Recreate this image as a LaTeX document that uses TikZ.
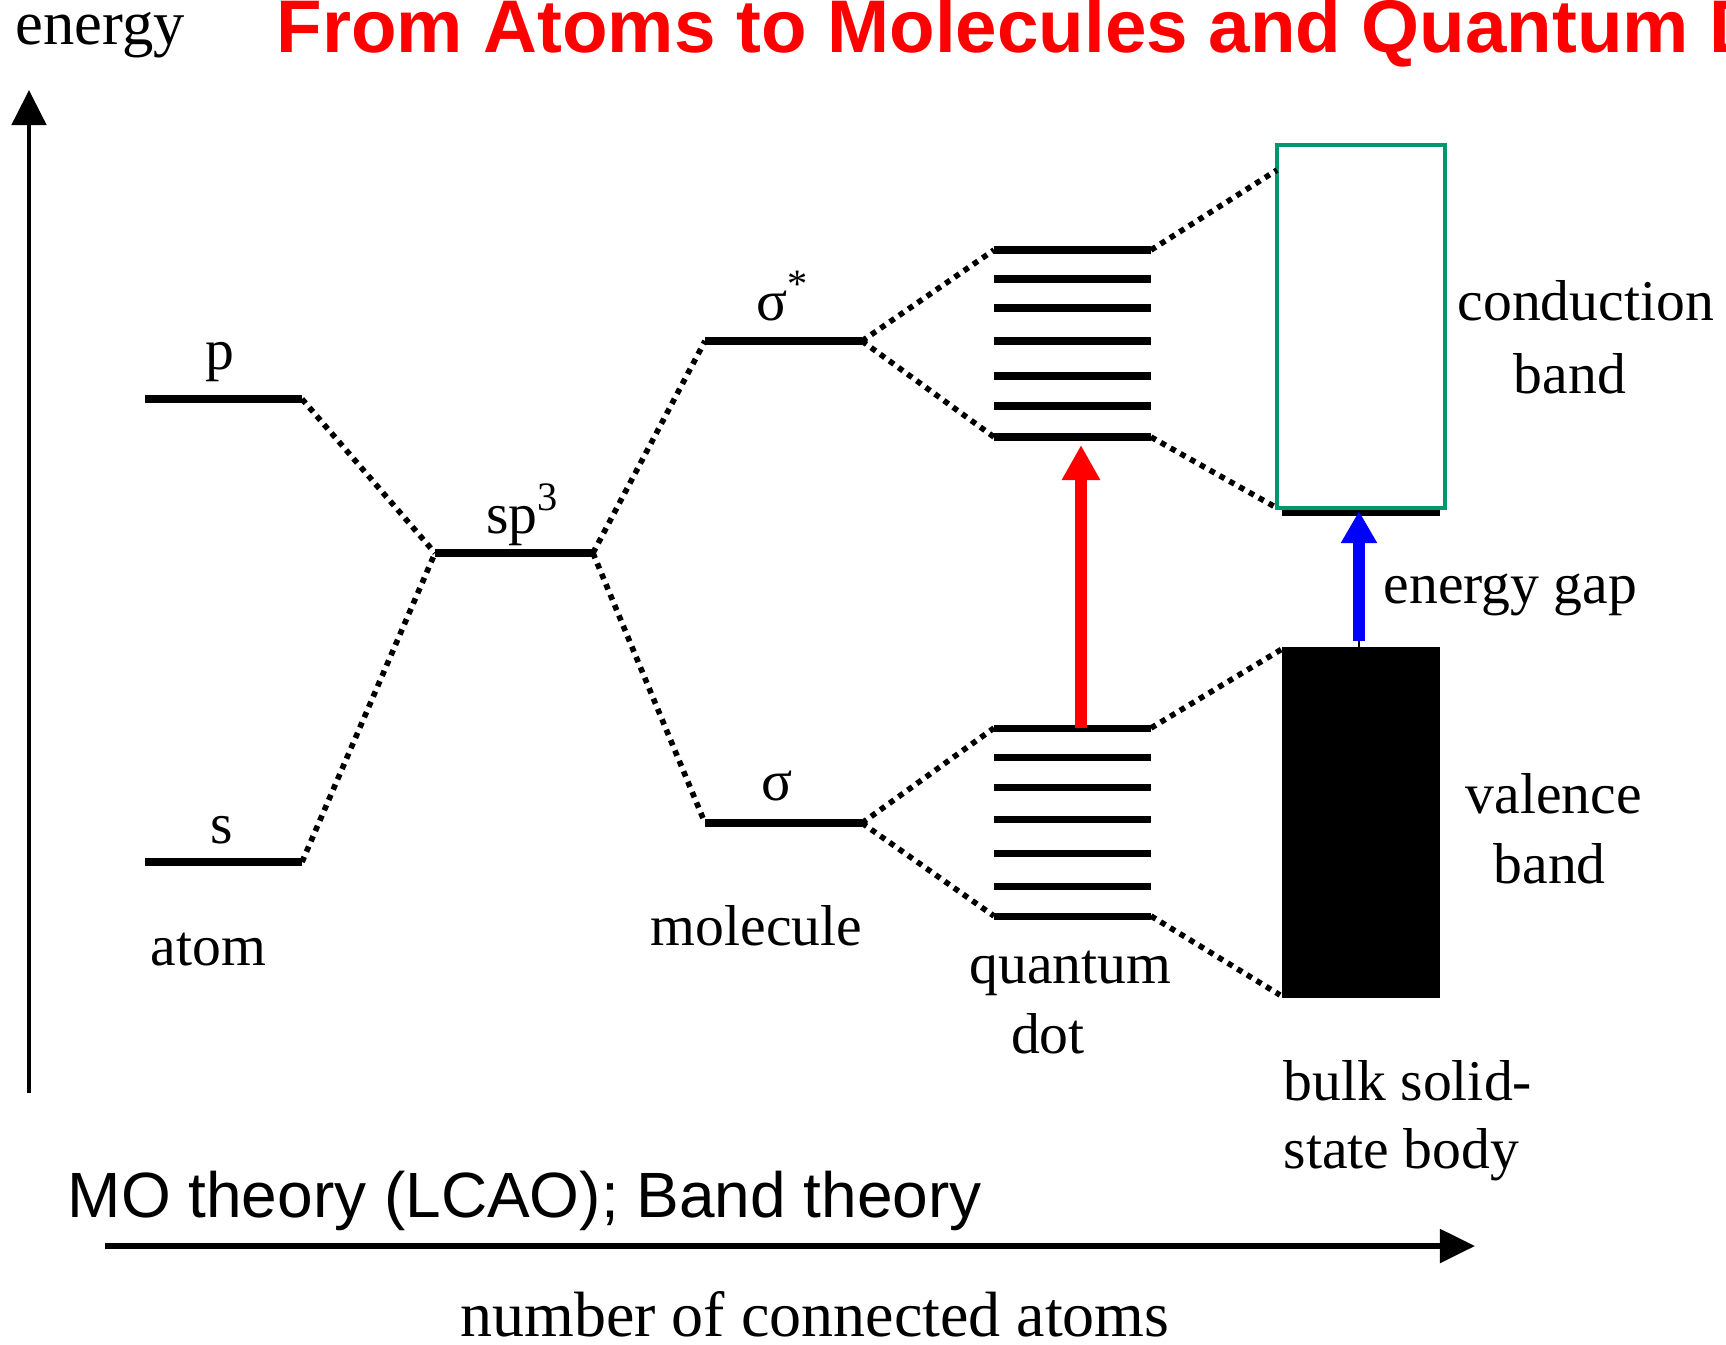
\documentclass[tikz,border=0pt]{standalone}
\usepackage{fontspec}
\setmainfont{Liberation Serif}
\newfontfamily\sansf{Liberation Sans}
\usetikzlibrary{arrows.meta}
\definecolor{bandgreen}{RGB}{0,150,110}
\begin{document}
\begin{tikzpicture}[x=0.01cm,y=-0.01cm,
  lvl/.style={line width=2.4pt},
  qdl/.style={line width=2pt},
  dotc/.style={line width=1.6pt, dash pattern=on 1.6pt off 1.6pt},
  lbl/.style={inner sep=0pt, font=\fontsize{16.4pt}{19pt}\selectfont},
  biglbl/.style={inner sep=0pt, font=\fontsize{17.8pt}{21pt}\selectfont},
  axis/.style={line width=1.4pt}
]
\useasboundingbox (0,0) rectangle (1726,1344);
\clip (0,0) rectangle (1726,1344);

% title
\node[inner sep=0pt, anchor=base west, text=red, font=\sansf\bfseries\fontsize{21.2pt}{24pt}\selectfont] (title) at (276,52) {From Atoms to Molecules and Quantum Dots};
\node[biglbl, anchor=base west] (energy) at (15,44) {energy};

% axes
\coordinate (eaS) at (29,1093);
\coordinate (eaE) at (29,90);
\draw[axis, -{Triangle[width=0.34cm,length=0.35cm]}] (eaS) -- (eaE);
\coordinate (naS) at (105,1246);
\coordinate (naE) at (1475,1246);
\draw[axis, line width=1.5pt, -{Triangle[width=0.33cm,length=0.35cm]}] (naS) -- (naE);

% atom levels
\coordinate (pL) at (145,399); \coordinate (pR) at (302,399);
\coordinate (sL) at (145,862); \coordinate (sR) at (302,862);
\draw[lvl] (pL) -- (pR);
\draw[lvl] (sL) -- (sR);
% sp3
\coordinate (spL) at (435,553); \coordinate (spR) at (593,553);
\draw[lvl] (spL) -- (spR);
% molecule
\coordinate (ssL) at (705,341); \coordinate (ssR) at (862,341);
\coordinate (sgL) at (705,823); \coordinate (sgR) at (862,823);
\draw[lvl] (ssL) -- (ssR);
\draw[lvl] (sgL) -- (sgR);

% quantum dot levels
\foreach \y [count=\i] in {250,279,308,341,376,406,437} {
  \coordinate (qu\i L) at (994,\y); \coordinate (qu\i R) at (1151,\y);
  \draw[qdl] (qu\i L) -- (qu\i R);
}
\foreach \y [count=\i] in {728,757,787,819,853,886,916} {
  \coordinate (ql\i L) at (994,\y); \coordinate (ql\i R) at (1151,\y);
  \draw[qdl] (ql\i L) -- (ql\i R);
}

% bands
\coordinate (cbTL) at (1277,145); \coordinate (cbBR) at (1445,508);
\coordinate (cbLine1) at (1282,513); \coordinate (cbLine2) at (1440,513);
\draw[line width=1.7pt] (cbLine1) -- (cbLine2);
\draw[bandgreen, line width=1.15pt] (cbTL) rectangle (cbBR);
\coordinate (vbTL) at (1282,647); \coordinate (vbBR) at (1440,998);
\fill[black] (vbTL) rectangle (vbBR);
\coordinate (cbA) at (1277,170); \coordinate (cbB) at (1277,508);
\coordinate (vbA) at (1282,649); \coordinate (vbB) at (1280,995);

% dotted connectors
\draw[dotc] (pR) -- (spL);
\draw[dotc] (sR) -- (spL);
\draw[dotc] (spR) -- (ssL);
\draw[dotc] (spR) -- (sgL);
\draw[dotc] (ssR) -- (qu1L);
\draw[dotc] (ssR) -- (qu7L);
\draw[dotc] (sgR) -- (ql1L);
\draw[dotc] (sgR) -- (ql7L);
\draw[dotc] (qu1R) -- (cbA);
\draw[dotc] (qu7R) -- (cbB);
\draw[dotc] (ql1R) -- (vbA);
\draw[dotc] (ql7R) -- (vbB);

% transition arrows
\coordinate (redS) at (1081,728); \coordinate (redE) at (1081,445);
\draw[red, line width=3.4pt, -{Triangle[width=0.36cm,length=0.35cm]}] (redS) -- (redE);
\coordinate (blueS) at (1359,641); \coordinate (blueE) at (1359,511);
\coordinate (blueB) at (1359,647);
\draw[line width=0.6pt] (blueB) -- (blueS);
\draw[blue, line width=3.4pt, -{Triangle[width=0.34cm,length=0.32cm]}] (blueS) -- (blueE);

% labels
\node[lbl, anchor=base] (lp) at (220,369) {p};
\node[lbl, anchor=base] (ls) at (222,843) {s};
\node[lbl, anchor=base west] (latom) at (150,965) {atom};
\node[lbl, anchor=base] (lsp) at (523,533) {sp\textsuperscript{3}};
\node[lbl, anchor=base] (lss) at (783,320) {σ\textsuperscript{*}};
\node[lbl, anchor=base] (lsg) at (777,800) {σ};
\node[lbl, anchor=base west] (lmol) at (650,945) {molecule};
\node[lbl, anchor=base west] (lqd1) at (969,983) {quantum};
\node[lbl, anchor=base] (lqd2) at (1048,1053) {dot};
\node[lbl, anchor=base west] (lcb1) at (1457,320) {conduction};
\node[lbl, anchor=base] (lcb2) at (1570,393) {band};
\node[lbl, anchor=base west] (lgap) at (1383,603) {energy gap};
\node[lbl, anchor=base west] (lvb1) at (1465,813) {valence};
\node[lbl, anchor=base west] (lvb2) at (1493,883) {band};
\node[lbl, anchor=base west] (lbulk1) at (1283,1100) {bulk solid-};
\node[lbl, anchor=base west] (lbulk2) at (1283,1168) {state body};
\node[inner sep=0pt, anchor=base west, font=\sansf\fontsize{18.2pt}{21pt}\selectfont] (lmo) at (67,1217) {MO theory (LCAO); Band theory};
\node[inner sep=0pt, anchor=base, font=\fontsize{18.2pt}{21pt}\selectfont] (lnum) at (815,1336) {number of connected atoms};
\end{tikzpicture}
\end{document}
